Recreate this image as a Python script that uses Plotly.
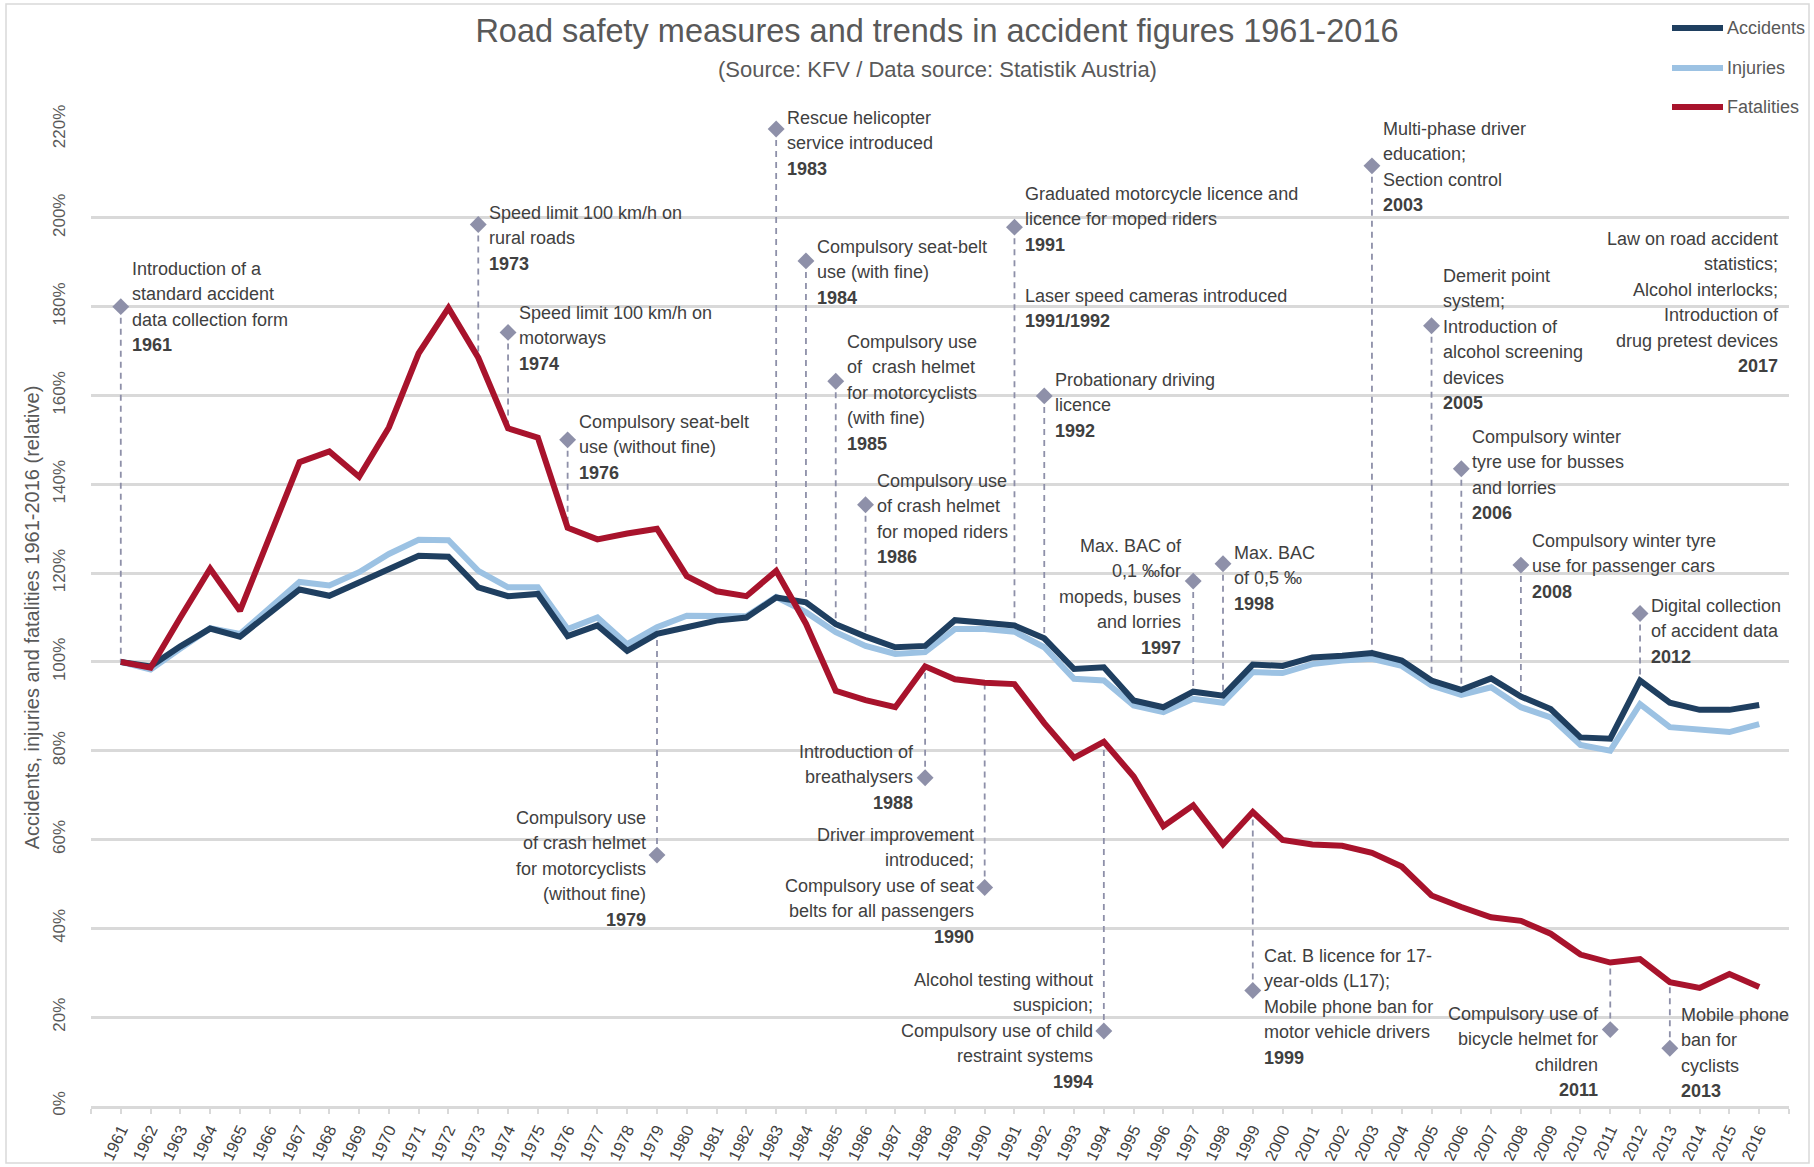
import plotly.graph_objects as go

# ---------------- data ----------------
years = list(range(1961, 2017))
accidents = [100, 99, 103.5, 107.5, 105.7, 111, 116.3, 114.9, 117.9, 120.9, 123.9, 123.7, 116.8, 114.8,
             115.3, 105.8, 108.2, 102.5, 106.3, 107.8, 109.3, 110, 114.5, 113.4, 108.5, 105.7, 103.3,
             103.6, 109.4, 108.8, 108.2, 105.3, 98.4, 98.8, 91.3, 89.8, 93.3, 92.4, 99.4, 99.1, 101,
             101.4, 102, 100.3, 95.8, 93.7, 96.3, 92.2, 89.4, 83, 82.7, 95.8, 90.8, 89.2, 89.2, 90.3]
injuries = [100, 98.3, 103, 107.6, 106.3, 112, 118, 117.2, 120.2, 124.3, 127.5, 127.4, 120.5, 116.8,
            116.8, 107.4, 110, 104, 107.8, 110.4, 110.5, 110.3, 114.6, 111.2, 106.7, 103.6, 101.8,
            102.2, 107.4, 107.4, 106.8, 103.3, 96.2, 95.8, 90.2, 88.7, 91.7, 90.8, 97.7, 97.5, 99.5,
            100.3, 100.7, 99.1, 94.7, 92.6, 94.3, 89.8, 87.5, 81.3, 80, 90.5, 85.3, 84.7, 84.2, 86]
fatalities = [100, 98.7, 110, 121, 111.5, 128, 145, 147.4, 141.7, 152.8, 169.5, 179.7, 168.5, 152.6,
              150.5, 130.2, 127.6, 128.9, 130, 119.3, 115.9, 114.8, 120.5, 108.6, 93.5, 91.4, 89.8,
              99, 96.1, 95.3, 95, 86.2, 78.4, 82, 74.2, 63, 67.7, 58.9, 66.2, 59.9, 58.9, 58.6, 57,
              53.9, 47.4, 44.8, 42.5, 41.7, 38.8, 34.1, 32.3, 33.1, 27.9, 26.6, 29.7, 26.8]

series_names = ["Accidents", "Injuries", "Fatalities"]

measure_years = [1961, 1973, 1974, 1976, 1979, 1983, 1984, 1985, 1986, 1988, 1990, 1991, 1992,
                 1994, 1997, 1998, 1999, 2003, 2005, 2006, 2008, 2011, 2012, 2013]
measure_marker = [180, 198.5, 174.2, 150, 56.5, 220, 190.3, 163.2, 135.4, 73.9, 49.2, 197.9, 159.9,
                  16.9, 118.2, 122.1, 26, 211.7, 175.7, 143.5, 121.8, 17.2, 110.9, 13]
measure_lines = [
    ["Introduction of a", "standard accident", "data collection form", "<b>1961</b>"],
    ["Speed limit 100 km/h on", "rural roads", "<b>1973</b>"],
    ["Speed limit 100 km/h on", "motorways", "<b>1974</b>"],
    ["Compulsory seat-belt", "use (without fine)", "<b>1976</b>"],
    ["Compulsory use", "of crash helmet", "for motorcyclists", "(without fine)", "<b>1979</b>"],
    ["Rescue helicopter", "service introduced", "<b>1983</b>"],
    ["Compulsory seat-belt", "use (with fine)", "<b>1984</b>"],
    ["Compulsory use", "of  crash helmet", "for motorcyclists", "(with fine)", "<b>1985</b>"],
    ["Compulsory use", "of crash helmet", "for moped riders", "<b>1986</b>"],
    ["Introduction of", "breathalysers", "<b>1988</b>"],
    ["Driver improvement", "introduced;", "Compulsory use of seat", "belts for all passengers", "<b>1990</b>"],
    ["Graduated motorcycle licence and", "licence for moped riders", "<b>1991</b>"],
    ["Probationary driving", "licence", "<b>1992</b>"],
    ["Alcohol testing without", "suspicion;", "Compulsory use of child", "restraint systems", "<b>1994</b>"],
    ["Max. BAC of", "0,1 ‰for", "mopeds, buses", "and lorries", "<b>1997</b>"],
    ["Max. BAC", "of 0,5 ‰", "<b>1998</b>"],
    ["Cat. B licence for 17-", "year-olds (L17);", "Mobile phone ban for", "motor vehicle drivers", "<b>1999</b>"],
    ["Multi-phase driver", "education;", "Section control", "<b>2003</b>"],
    ["Demerit point", "system;", "Introduction of", "alcohol screening", "devices", "<b>2005</b>"],
    ["Compulsory winter", "tyre use for busses", "and lorries", "<b>2006</b>"],
    ["Compulsory winter tyre", "use for passenger cars", "<b>2008</b>"],
    ["Compulsory use of", "bicycle helmet for", "children", "<b>2011</b>"],
    ["Digital collection", "of accident data", "<b>2012</b>"],
    ["Mobile phone", "ban for", "cyclists", "<b>2013</b>"],
]
# texts without a marker
extra_lines = [["Laser speed cameras introduced", "<b>1991/1992</b>"],
               ["Law on road accident", "statistics;", "Alcohol interlocks;", "Introduction of",
                "drug pretest devices", "<b>2017</b>"]]
extra_years = [1991, 2017]

title_text = "Road safety measures and trends in accident figures 1961-2016"
subtitle_text = "(Source: KFV / Data source: Statistik Austria)"
yaxis_title = "Accidents, injuries and fatalities 1961-2016 (relative)"
y_ticks = list(range(0, 221, 20))
y_ticklabels = [f"{v}%" for v in y_ticks]

# ---------------- layout / style ----------------
W, H = 1814, 1167
ML, MR, MT, MB = 91, 25, 129, 61
NARROW = "Liberation Sans Narrow, Arial Narrow, Liberation Sans, Arial, sans-serif"
REG = "Liberation Sans, Arial, sans-serif"
TXT = "#404040"
GRAY = "#595959"
GRID = "#d9d9d9"
colors = {"Accidents": "#1f3f60", "Injuries": "#9cc2e3", "Fatalities": "#a8132c"}
MARK = "#8e90a9"
ANN_BOX = 19.6     # sets the line spacing
ANN_GLYPH = 18     # visible glyph size

# label side (True = text left of marker) and vertical offset in px (text centre below marker)
label_left = [False, False, False, False, True, False, False, False, False, True, True, False, False,
              True, True, False, False, False, False, False, False, True, False, False]
label_dy = [0, 14, 6, 8, 14, 14, 12, 12, 14, 0, -2, -8, 10, 0, 16, 15, 16, 1, 14, 6, 1, 22, 18, 5]
extra_pos_y = [179.5, 181]
extra_left = [False, True]


def px_x(p):
    return (p - ML) / (W - ML - MR)


def px_y(p):
    return (H - MB - p) / (H - MT - MB)


def block(lines):
    return "<br>".join(f'<span style="font-size:{ANN_GLYPH}px">{ln}</span>' for ln in lines)


series_vals = {"Accidents": accidents, "Injuries": injuries, "Fatalities": fatalities}

fig = go.Figure()

# dashed connectors from marker to nearest series
dx, dy = [], []
for yr, mv in zip(measure_years, measure_marker):
    i = years.index(yr)
    vals = [accidents[i], injuries[i], fatalities[i]]
    end = max(vals) if mv > max(vals) else min(vals)
    dx += [yr, yr, None]
    dy += [mv, end, None]
fig.add_trace(go.Scatter(x=dx, y=dy, mode="lines", line=dict(color=MARK, width=1.8, dash="6px,5px"),
                         hoverinfo="skip", showlegend=False))

for name in ["Injuries", "Accidents", "Fatalities"]:
    fig.add_trace(go.Scatter(x=years, y=series_vals[name], mode="lines", name=name,
                             line=dict(color=colors[name], width=6), showlegend=False))

fig.add_trace(go.Scatter(x=measure_years, y=measure_marker, mode="markers",
                         marker=dict(symbol="diamond", size=13, color=MARK), showlegend=False,
                         cliponaxis=False, hoverinfo="skip"))

annotations = []
for yr, mv, ln, left, off in zip(measure_years, measure_marker, measure_lines, label_left, label_dy):
    annotations.append(dict(x=yr, y=mv, xref="x", yref="y", text=block(ln), showarrow=False,
                            xanchor="right" if left else "left", align="right" if left else "left",
                            xshift=-9 if left else 9, yanchor="middle", yshift=-off,
                            font=dict(family=NARROW, size=ANN_BOX, color=TXT)))
for yr, yv, ln, left in zip(extra_years, extra_pos_y, extra_lines, extra_left):
    annotations.append(dict(x=yr, y=yv, xref="x", yref="y", text=block(ln), showarrow=False,
                            xanchor="right" if left else "left", align="right" if left else "left",
                            xshift=-8 if left else 9, yanchor="middle",
                            font=dict(family=NARROW, size=ANN_BOX, color=TXT)))

annotations.append(dict(x=px_x(937), y=px_y(69), xref="paper", yref="paper", text=subtitle_text,
                        showarrow=False, xanchor="center", yanchor="middle",
                        font=dict(family=NARROW, size=22, color=GRAY)))

# manual legend
shapes = []
for k, name in enumerate(series_names):
    ly = [28, 68, 107][k]
    shapes.append(dict(type="line", xref="paper", yref="paper", x0=px_x(1672), x1=px_x(1723),
                       y0=px_y(ly), y1=px_y(ly), line=dict(color=colors[name], width=6)))
    annotations.append(dict(x=px_x(1725), y=px_y(ly), xref="paper", yref="paper", text=name,
                            showarrow=False, xanchor="left", yanchor="middle",
                            font=dict(family=NARROW, size=18, color=GRAY)))

# outer border
shapes.append(dict(type="rect", xref="paper", yref="paper", x0=px_x(6), x1=px_x(1809),
                   y0=px_y(1163), y1=px_y(4), line=dict(color=GRID, width=1.5), layer="below"))

tickvals_x = list(range(1960, 2018))
ticktext_x = [""] + [str(y) for y in years] + [""]

fig.update_layout(
    width=W, height=H, margin=dict(l=ML, r=MR, t=MT, b=MB),
    paper_bgcolor="white", plot_bgcolor="white",
    title=dict(text=title_text, x=937 / W, y=1 - 31 / H, xref="container", yref="container",
               xanchor="center", yanchor="middle", font=dict(family=NARROW, size=32.5, color=GRAY)),
    xaxis=dict(range=[1960, 2017], tickmode="array", tickvals=tickvals_x, ticktext=ticktext_x,
               tickangle=-65, showgrid=False, zeroline=False, showline=True, linecolor=GRID,
               linewidth=2.5, ticks="outside", ticklen=5, tickwidth=2, tickcolor=GRID,
               automargin=False, tickfont=dict(family=REG, size=16.5, color=TXT)),
    yaxis=dict(range=[0, 220], tickmode="array", tickvals=y_ticks, ticktext=y_ticklabels,
               tickangle=-90, showgrid=True, gridcolor=GRID, gridwidth=2.5, zeroline=False,
               showline=False, ticks="", ticklabelstandoff=22, automargin=False,
               tickfont=dict(family=REG, size=17, color=GRAY),
               title=dict(text=yaxis_title, font=dict(family=REG, size=20, color=GRAY), standoff=4)),
    annotations=annotations, shapes=shapes, showlegend=False,
)

fig.write_html("out.html", config={"displayModeBar": False},
               post_script="document.body.style.margin='0';document.body.style.padding='0';")
